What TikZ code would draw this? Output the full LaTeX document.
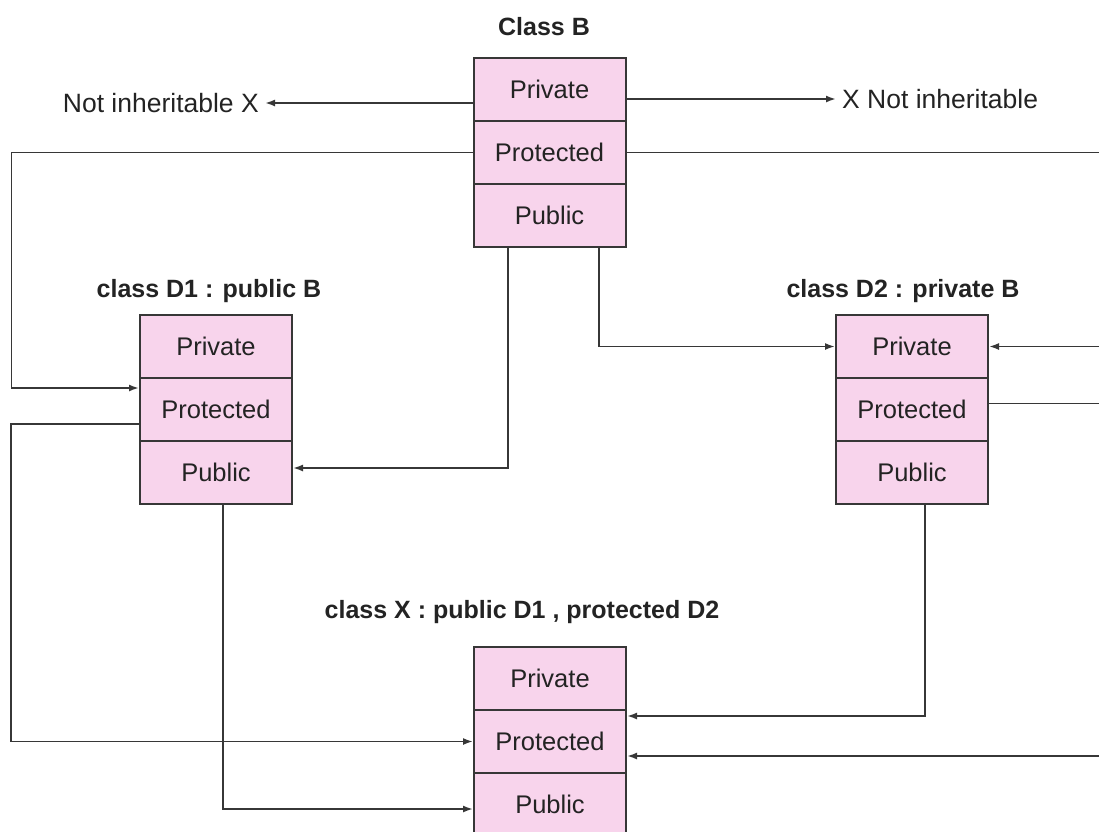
\documentclass[tikz,border=0pt]{standalone}
\usepackage{fontspec}
\setmainfont{Liberation Sans}
\usetikzlibrary{arrows.meta,calc}
\definecolor{boxpink}{RGB}{248,212,236}
\definecolor{ink}{RGB}{55,55,55}
\definecolor{txt}{RGB}{35,35,35}
\begin{document}
\begin{tikzpicture}[x=1pt,y=-1pt,
  cell/.style={draw=ink,line width=2pt,fill=boxpink,minimum width=152pt,
    minimum height=63pt,inner sep=0pt,text=txt,font=\fontsize{25.5}{30}\selectfont},
  title/.style={text=txt,font=\bfseries\fontsize{25}{30}\selectfont},
  note/.style={text=txt,font=\fontsize{26.5}{30}\selectfont,inner sep=6pt},
  conn/.style={draw=ink,line width=1.8pt},
  arr/.style={conn,-{Latex[length=10pt,width=7pt]}}]
\useasboundingbox (0,0) rectangle (1099,831);

% class B
\node[title] (tB) at (544,27) {Class B};
\node[cell] (Bpriv) at (549.5,89.5) {Private};
\node[cell] (Bprot) at (549.5,152.5) {Protected};
\node[cell] (Bpub)  at (549.5,215.5) {Public};

% class D1
\node[title] (tD1) at (209,291) {class D1 : public B};
\node[cell] (D1priv) at (216,346.5) {Private};
\node[cell] (D1prot) at (216,409.5) {Protected};
\node[cell] (D1pub)  at (216,472.5) {Public};

% class D2
\node[title] (tD2) at (903,291) {class D2 : private B};
\node[cell] (D2priv) at (912,346.5) {Private};
\node[cell] (D2prot) at (912,409.5) {Protected};
\node[cell] (D2pub)  at (912,472.5) {Public};

% class X
\node[title] (tX) at (522,612) {class X : public D1 , protected D2};
\node[cell] (Xpriv) at (550,678.5) {Private};
\node[cell] (Xprot) at (550,741.5) {Protected};
\node[cell] (Xpub)  at (550,804.5) {Public};

% private members of B
\node[note,anchor=east] (nl) at (265,103) {Not inheritable X};
\node[note,anchor=west] (nr) at (836,99) {X Not inheritable};
\draw[arr] ([yshift=-13.5pt]Bpriv.west) -- (nl.east);
\draw[arr] ([yshift=-9.5pt]Bpriv.east) -- (nr.west);

% B -> D1
\draw[arr] (Bprot.west) -- ++(-461,0) |- ([yshift=21.5pt]D1prot.west);
\draw[arr] ([xshift=-41.5pt]Bpub.south) |- ([yshift=4.5pt]D1pub.east);

% B -> D2
\draw[arr] (Bprot.east) -- ++(490,0) |- (D2priv.east);
\draw[arr] ([xshift=49.5pt]Bpub.south) |- (D2priv.west);

% D1 -> X
\draw[arr] ([yshift=-14.5pt]D1prot.west) -- ++(-128,0) |- (Xprot.west);
\draw[arr] ([xshift=7pt]D1pub.south) |- ([yshift=-4.5pt]Xpub.west);

% D2 -> X
\draw[arr] ([yshift=6pt]D2prot.east) -- ++(130,0) |- ([yshift=-14.5pt]Xprot.east);
\draw[arr] ([xshift=13pt]D2pub.south) |- ([yshift=25.5pt]Xprot.east);
\end{tikzpicture}
\end{document}
